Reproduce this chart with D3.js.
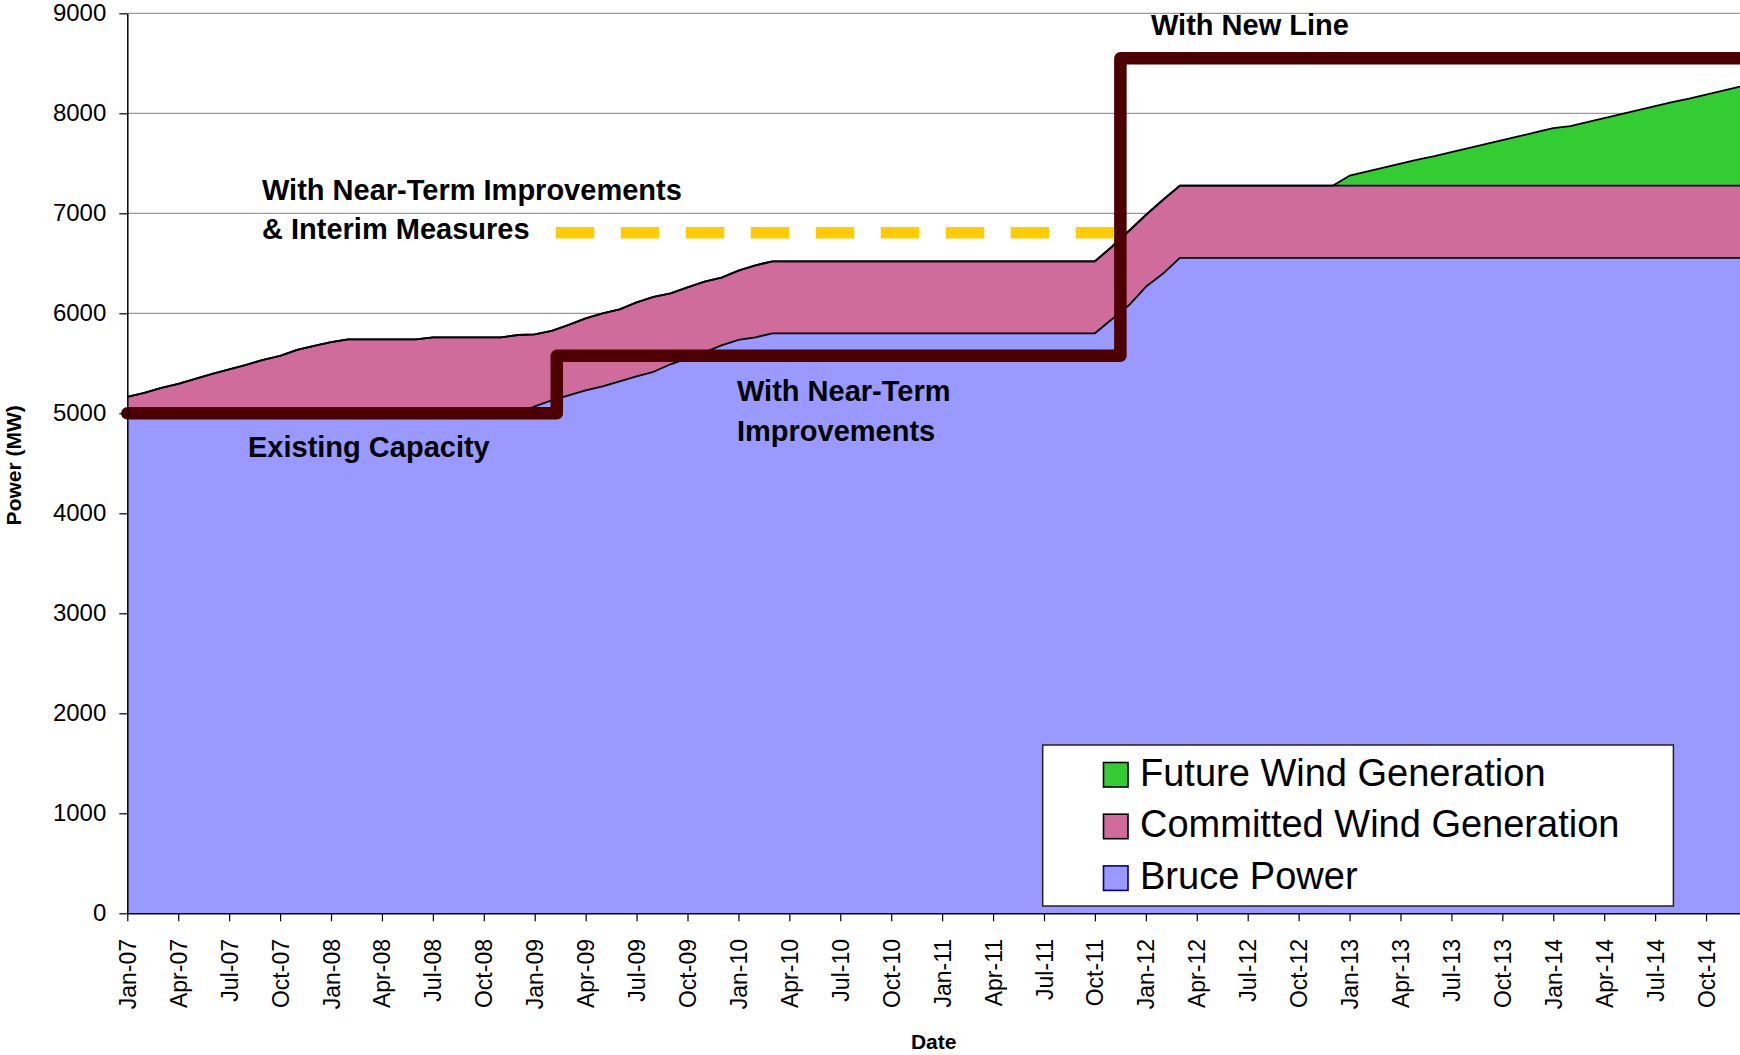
<!DOCTYPE html>
<html>
<head>
<meta charset="utf-8">
<script src="https://cdn.jsdelivr.net/npm/d3@7"></script>
<style>
  body { margin: 0; background: #fff; }
  svg text { font-family: "Liberation Sans", Arial, sans-serif; }
</style>
</head>
<body>
<div id="chart-area"></div>
<script>

// monthly values, Jan-07 .. Dec-14 (96 months)
var bruce = [
  5000, 5000, 5000, 5000, 5000, 5000, 5000, 5000, 5000, 5000, 5000, 5000,
  5000, 5000, 5000, 5000, 5000, 5000, 5000, 5000, 5000, 5000, 5000, 5000,
  5070, 5130, 5180, 5230, 5270, 5320, 5370, 5415, 5490, 5550, 5610, 5680,
  5735, 5760, 5800, 5800, 5800, 5800, 5800, 5800, 5800, 5800, 5800, 5800,
  5800, 5800, 5800, 5800, 5800, 5800, 5800, 5800, 5800, 5800, 5940, 6080,
  6265, 6395, 6555, 6555, 6555, 6555, 6555, 6555, 6555, 6555, 6555, 6555,
  6555, 6555, 6555, 6555, 6555, 6555, 6555, 6555, 6555, 6555, 6555, 6555,
  6555, 6555, 6555, 6555, 6555, 6555, 6555, 6555, 6555, 6555, 6555, 6555
];
var committed = [
  165, 205, 255, 295, 345, 395, 440, 485, 535, 575, 635, 675,
  712, 740, 740, 740, 740, 740, 760, 760, 760, 760, 760, 783,
  720, 695, 705, 720, 730, 720, 740, 750, 710, 710, 706, 676,
  691, 720, 720, 720, 720, 720, 720, 720, 720, 720, 720, 720,
  720, 720, 720, 720, 720, 720, 720, 720, 720, 720, 726, 743,
  718, 738, 721, 721, 721, 721, 721, 721, 721, 721, 721, 721,
  721, 721, 721, 721, 721, 721, 721, 721, 721, 721, 721, 721,
  721, 721, 721, 721, 721, 721, 721, 721, 721, 721, 721, 721
];
var future = [
  0, 0, 0, 0, 0, 0, 0, 0, 0, 0, 0, 0,
  0, 0, 0, 0, 0, 0, 0, 0, 0, 0, 0, 0,
  0, 0, 0, 0, 0, 0, 0, 0, 0, 0, 0, 0,
  0, 0, 0, 0, 0, 0, 0, 0, 0, 0, 0, 0,
  0, 0, 0, 0, 0, 0, 0, 0, 0, 0, 0, 0,
  0, 0, 0, 0, 0, 0, 0, 0, 0, 0, 0, 0,
  100, 140, 180, 220, 260, 295, 335, 375, 415, 455, 495, 535,
  575, 595, 635, 675, 715, 755, 795, 835, 870, 910, 950, 990
];

// transmission capability (step line) and interim measures line
var capMonths = [0, 25.3, 58.5, 95];
var capValues = [5000, 5575, 8550, 8550];
var interimMonths = [25.24, 58.5];
var interimValues = [6805, 6805];

var tickMonths = d3.range(0, 96, 3);
var tickLabels = [
  "Jan-07", "Apr-07", "Jul-07", "Oct-07", "Jan-08", "Apr-08", "Jul-08", "Oct-08",
  "Jan-09", "Apr-09", "Jul-09", "Oct-09", "Jan-10", "Apr-10", "Jul-10", "Oct-10",
  "Jan-11", "Apr-11", "Jul-11", "Oct-11", "Jan-12", "Apr-12", "Jul-12", "Oct-12",
  "Jan-13", "Apr-13", "Jul-13", "Oct-13", "Jan-14", "Apr-14", "Jul-14", "Oct-14"
];
var yTicks = [0, 1000, 2000, 3000, 4000, 5000, 6000, 7000, 8000, 9000];

var seriesNames = ["Bruce Power", "Committed Wind Generation", "Future Wind Generation"];
var seriesColors = ["#9999FF", "#CF6C9C", "#33CC33"];
var legendBorders = ["#000080", "#000000", "#000000"];

var margin = {left: 127.3, right: 0, top: 13.3, bottom: 141.7};
var W = 1740, H = 1055;
var width = W - margin.left - margin.right,
    height = H - margin.top - margin.bottom;

var svg = d3.select("#chart-area")
  .append("svg")
    .attr("width", W)
    .attr("height", H)
    .style("display", "block");

var group = svg.append("g")
  .attr("transform", "translate(" + margin.left + "," + margin.top + ")");

var x = d3.scaleLinear().domain([0, 95]).range([0, width]);
var y = d3.scaleLinear().domain([0, 9000]).range([height, 0]);

// gridlines
group.selectAll(".grid")
  .data(yTicks.slice(1))
  .enter().append("line")
    .attr("x1", 0).attr("x2", width)
    .attr("y1", function(d){ return y(d); })
    .attr("y2", function(d){ return y(d); })
    .attr("stroke", "#808080")
    .attr("stroke-width", 1);

// stacked areas
var rows = bruce.map(function(v, i){
  return {bruce: v, committed: committed[i], future: future[i]};
});
var stacked = d3.stack().keys(["bruce", "committed", "future"])(rows);

var area = d3.area()
  .x(function(d, i){ return x(i); })
  .y0(function(d){ return y(d[0]); })
  .y1(function(d){ return y(d[1]); });

var topLine = d3.line()
  .x(function(d, i){ return x(i); })
  .y(function(d){ return y(d[1]); });

group.selectAll(".area")
  .data(stacked)
  .enter().append("path")
    .attr("d", area)
    .attr("fill", function(d, i){ return seriesColors[i]; });

group.selectAll(".top")
  .data(stacked)
  .enter().append("path")
    .attr("d", topLine)
    .attr("fill", "none")
    .attr("stroke", "#000")
    .attr("stroke-width", 1.8)
    .attr("stroke-linejoin", "round");

// interim measures (dashed yellow)
var interimLine = d3.line()
  .x(function(d){ return x(d[0]); })
  .y(function(d){ return y(d[1]); });
group.append("path")
  .attr("d", interimLine(d3.zip(interimMonths, interimValues)))
  .attr("fill", "none")
  .attr("stroke", "#FFCC00")
  .attr("stroke-width", 11.5)
  .attr("stroke-dasharray", "38.5 26.5");

// capability step line
var capLine = d3.line()
  .curve(d3.curveStepAfter)
  .x(function(d){ return x(d[0]); })
  .y(function(d){ return y(d[1]); });
group.append("path")
  .attr("d", capLine(d3.zip(capMonths, capValues)))
  .attr("fill", "none")
  .attr("stroke", "#4C0000")
  .attr("stroke-width", 12.5)
  .attr("stroke-linejoin", "round")
  .attr("stroke-linecap", "round");

// axes
var yAxisCall = d3.axisLeft(y)
  .tickValues(yTicks)
  .tickSize(8)
  .tickSizeOuter(0)
  .tickPadding(13)
  .tickFormat(d3.format("d"));
var yAxis = group.append("g").call(yAxisCall);
yAxis.selectAll("text").attr("font-size", "24px").attr("fill", "#000")
  .style("font-family", "'Liberation Sans', Arial, sans-serif");
yAxis.select(".domain").attr("stroke", "#000").attr("stroke-width", 1.5);
yAxis.selectAll(".tick line").attr("stroke", "#000").attr("stroke-width", 1.2);

var xAxisCall = d3.axisBottom(x)
  .tickValues(tickMonths)
  .tickSize(8)
  .tickSizeOuter(0)
  .tickFormat(function(d, i){ return tickLabels[i]; });
var xAxis = group.append("g")
  .attr("transform", "translate(0," + height + ")")
  .call(xAxisCall);
xAxis.select(".domain").attr("stroke", "#000").attr("stroke-width", 1.5);
xAxis.selectAll(".tick line").attr("stroke", "#000").attr("stroke-width", 1.2);
xAxis.selectAll("text")
  .attr("font-size", "23px")
  .attr("fill", "#000")
  .style("font-family", "'Liberation Sans', Arial, sans-serif")
  .attr("text-anchor", "end")
  .attr("transform", "rotate(-90)")
  .attr("x", -25.7)
  .attr("y", 0)
  .attr("dy", "0.35em");

// axis titles
svg.append("text")
  .attr("transform", "translate(21," + (margin.top + height / 2 + 2) + ") rotate(-90)")
  .attr("text-anchor", "middle")
  .attr("font-size", "21px")
  .attr("font-weight", "bold")
  .text("Power (MW)");

svg.append("text")
  .attr("x", margin.left + width / 2)
  .attr("y", 1049)
  .attr("text-anchor", "middle")
  .attr("font-size", "21px")
  .attr("font-weight", "bold")
  .text("Date");

// annotations
var notes = [
  {t: "With Near-Term Improvements", x: 262, y: 200},
  {t: "& Interim Measures", x: 262, y: 239.3},
  {t: "Existing Capacity", x: 248, y: 457.4},
  {t: "With Near-Term", x: 737, y: 401.4},
  {t: "Improvements", x: 737, y: 440.7},
  {t: "With New Line", x: 1151, y: 35}
];
svg.selectAll(".note")
  .data(notes)
  .enter().append("text")
    .attr("x", function(d){ return d.x; })
    .attr("y", function(d){ return d.y; })
    .attr("font-size", "29px")
    .attr("font-weight", "bold")
    .attr("fill", "#000")
    .text(function(d){ return d.t; });

// legend
var legend = svg.append("g");
legend.append("rect")
  .attr("x", 1042.7).attr("y", 745)
  .attr("width", 630.7).attr("height", 161)
  .attr("fill", "#fff")
  .attr("stroke", "#222")
  .attr("stroke-width", 1.5);

var legendOrder = [2, 1, 0];
legendOrder.forEach(function(k, i){
  legend.append("rect")
    .attr("x", 1103.5).attr("y", 762.5 + i * 51.7)
    .attr("width", 24.5).attr("height", 24.5)
    .attr("fill", seriesColors[k])
    .attr("stroke", legendBorders[k])
    .attr("stroke-width", 1.6);
  legend.append("text")
    .attr("x", 1140).attr("y", 785.7 + i * 51.7)
    .attr("font-size", "38px")
    .attr("fill", "#000")
    .text(seriesNames[k]);
});

</script>
</body>
</html>
